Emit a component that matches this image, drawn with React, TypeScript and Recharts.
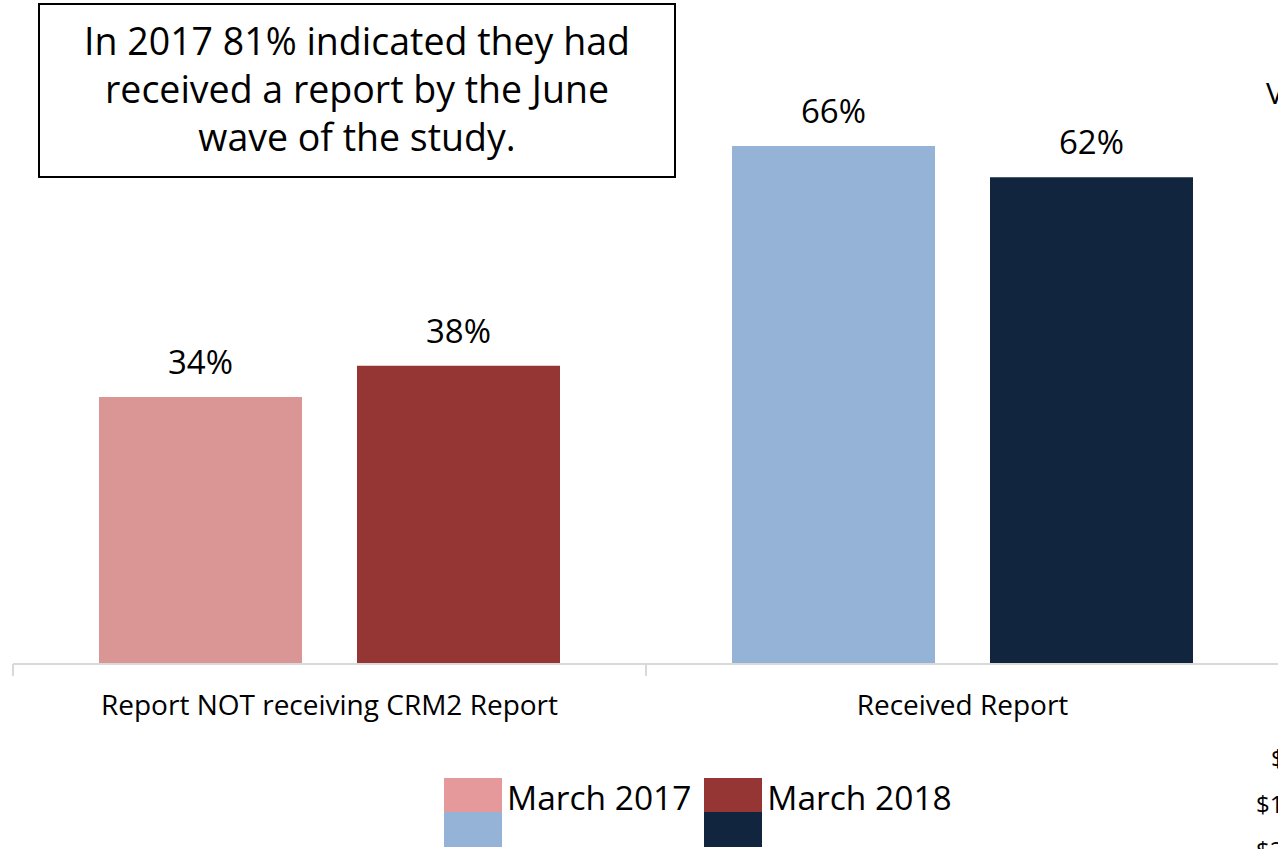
import { BarChart, Bar, XAxis, YAxis, Cell, LabelList } from 'recharts';

const categories = ['Report NOT receiving CRM2 Report', 'Received Report'];
const values2017 = [34, 66];
const values2018 = [38, 62];
const seriesNames = ['March 2017', 'March 2018'];
const colors2017 = ['#DA9694', '#95B3D7'];
const colors2018 = ['#963634', '#12253F'];
const legendTop = ['#E6999A', '#963634'];
const legendBottom = ['#95B3D7', '#12253F'];

const data = categories.map((name, i) => ({ name, m2017: values2017[i], m2018: values2018[i] }));

const FONT = '"Open Sans", sans-serif';

// tick marks sit on the category boundaries, labels in the middle
function BoundaryTick(props: any) {
  const { x, y, payload, index } = props;
  const half = payload.offset ?? 0;
  return (
    <g>
      <line x1={x - half} y1={y - 8} x2={x - half} y2={y + 4} stroke="#d9d9d9" strokeWidth={2} />
      {index === categories.length - 1 && (
        <line x1={x + half} y1={y - 8} x2={x + half} y2={y + 4} stroke="#d9d9d9" strokeWidth={2} />
      )}
      <text x={x} y={y + 43} textAnchor="middle" fontSize={28} fill="#000" fontFamily={FONT}>
        {payload.value}
      </text>
    </g>
  );
}

const pct = (v: any) => `${v}%`;

export default function App() {
  return (
    <div style={{ position: 'absolute', left: 0, top: 0, width: 1278, height: 849, overflow: 'hidden', background: '#fff', fontFamily: FONT }}>
      <BarChart
        width={1300}
        height={849}
        data={data}
        margin={{ top: 36, right: 21, left: 13, bottom: 125 }}
        barCategoryGap={86}
        barGap={55}
      >
        <YAxis hide domain={[0, 80]} />
        <XAxis
          dataKey="name"
          height={60}
          axisLine={{ stroke: '#d9d9d9', strokeWidth: 2 }}
          tickLine={false}
          tick={<BoundaryTick />}
          interval={0}
        />
        <Bar dataKey="m2017" isAnimationActive={false} barSize={203}>
          {data.map((_, i) => (
            <Cell key={i} fill={colors2017[i]} />
          ))}
          <LabelList dataKey="m2017" position="top" offset={23} formatter={pct} fill="#000" fontSize={33} fontFamily={FONT} />
        </Bar>
        <Bar dataKey="m2018" isAnimationActive={false} barSize={203}>
          {data.map((_, i) => (
            <Cell key={i} fill={colors2018[i]} />
          ))}
          <LabelList dataKey="m2018" position="top" offset={23} formatter={pct} fill="#000" fontSize={33} fontFamily={FONT} />
        </Bar>
      </BarChart>

      <div
        style={{
          position: 'absolute',
          left: 38,
          top: 3,
          width: 634,
          height: 171,
          border: '2px solid #000',
          textAlign: 'center',
          fontSize: 37.5,
          lineHeight: '48px',
          color: '#000',
        }}
      >
        <div style={{ position: 'absolute', left: 0, right: 0, top: 12 }}>
          In 2017 81% indicated they had
          <br />
          received a report by the June
          <br />
          wave of the study.
        </div>
      </div>

      <div style={{ position: 'absolute', left: 444, top: 778, display: 'flex' }}>
        {seriesNames.map((s, i) => (
          <div key={s} style={{ display: 'flex', alignItems: 'flex-start', marginRight: i === 0 ? 13 : 0 }}>
            <div>
              <div style={{ width: 58, height: 34, background: legendTop[i] }} />
              <div style={{ width: 58, height: 35, background: legendBottom[i] }} />
            </div>
            <span style={{ fontSize: 33.5, lineHeight: '42px', marginLeft: 5, marginTop: -2, color: '#000' }}>{s}</span>
          </div>
        ))}
      </div>

      <span style={{ position: 'absolute', left: 1266, top: 72, fontSize: 30 }}>V</span>
      <span style={{ position: 'absolute', left: 1271, top: 741, fontSize: 24 }}>$</span>
      <span style={{ position: 'absolute', left: 1256, top: 787, fontSize: 24 }}>$1</span>
      <span style={{ position: 'absolute', left: 1256, top: 833, fontSize: 24 }}>$2</span>
    </div>
  );
}
